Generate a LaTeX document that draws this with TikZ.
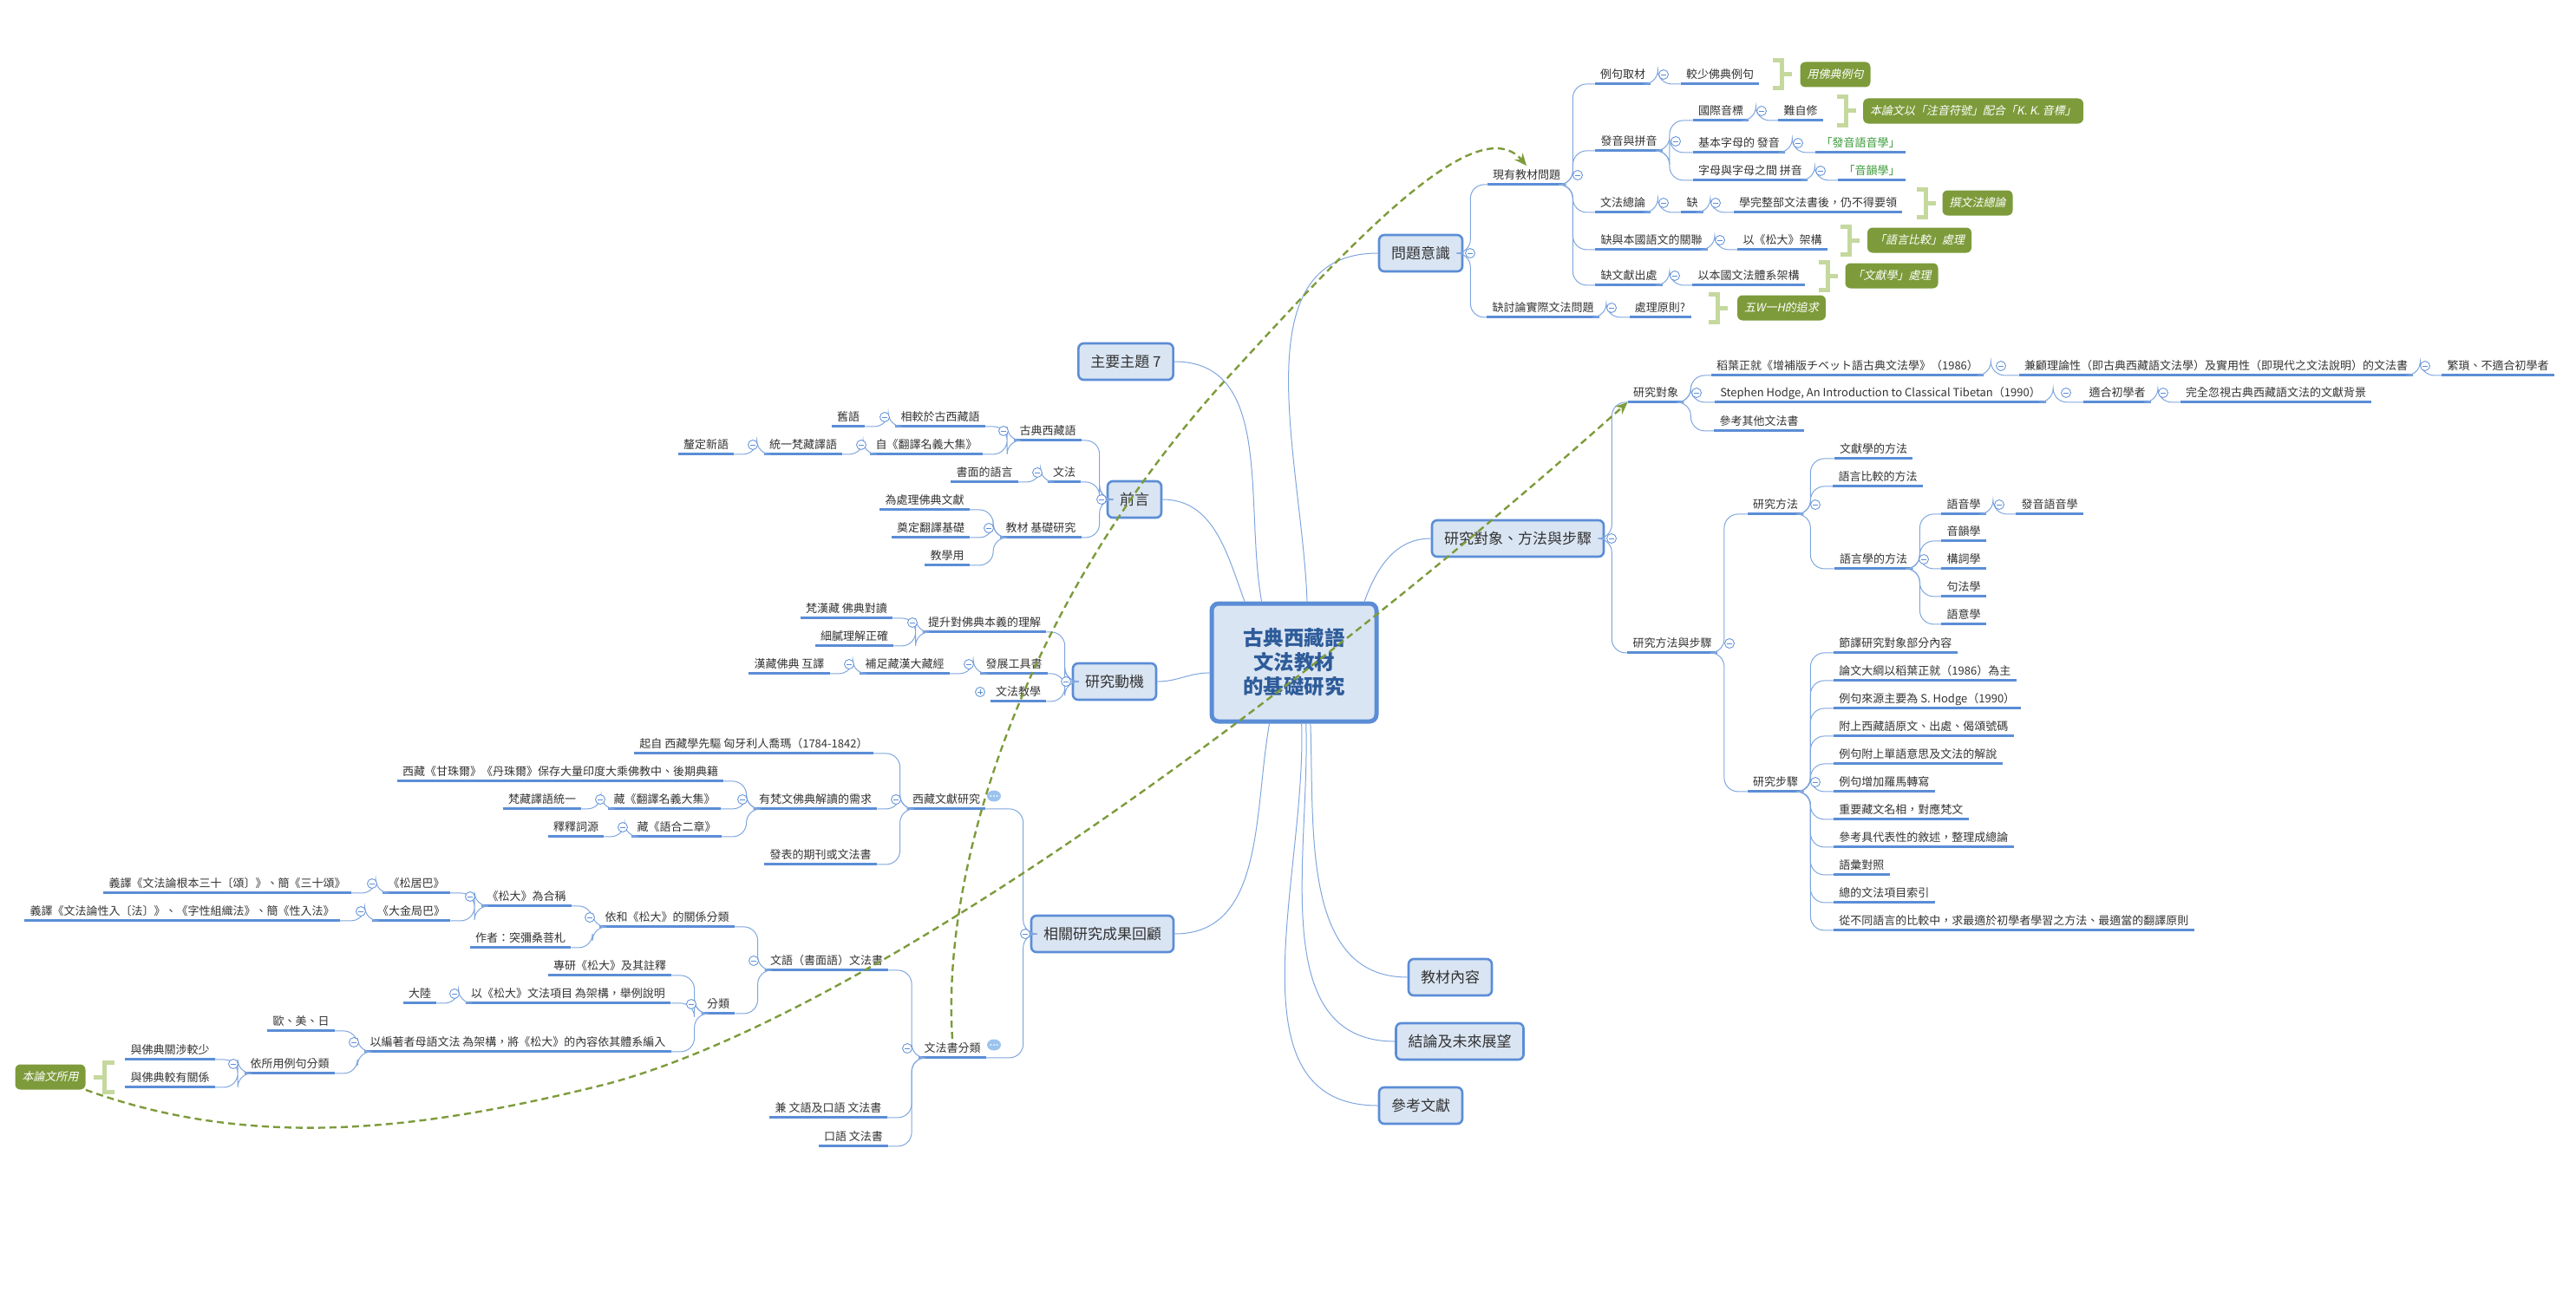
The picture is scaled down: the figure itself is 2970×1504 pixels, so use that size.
\documentclass[tikz,border=0pt]{standalone}
\usepackage{fontspec}
\setmainfont{Noto Sans CJK TC}
\newfontfamily\slcjk{Noto Sans CJK TC}[FakeSlant=0.2]
\usetikzlibrary{arrows.meta,shapes.geometric}
\definecolor{txt}{HTML}{333333}
\definecolor{lnk}{HTML}{7FA6DE}
\definecolor{uln}{HTML}{5B8DD6}
\definecolor{tfill}{HTML}{DAE5F3}
\definecolor{olive}{HTML}{7D9B3B}
\definecolor{brk}{HTML}{C5D89E}
\definecolor{gtxt}{HTML}{3A9A3A}
\definecolor{ctxt}{HTML}{2E5C9A}
\definecolor{bub}{HTML}{9CC3EE}
\newcommand\ssz{\fontsize{6.5}{8}\selectfont}
\newcommand\gbrace[2]{\draw[brace] (#1,#2-16) -- (#1+10,#2-16) -- (#1+10,#2+16) -- (#1,#2+16) (#1+10,#2) -- (#1+22,#2);}

\begin{document}
\begin{tikzpicture}[x=0.5pt,y=-0.5pt,
  leaf/.style={font=\ssz,text=txt,inner xsep=3pt,inner ysep=1.5pt,text height=6pt,text depth=1.5pt,
    append after command={(\tikzlastnode.south west) edge[uline] (\tikzlastnode.south east)}},
  uline/.style={draw=uln,line width=1.5pt},
  link/.style={draw=lnk,line width=0.5pt,rounded corners=8pt},
  topic/.style={draw=uln,line width=1.3pt,fill=tfill,rounded corners=3pt,font=\fontsize{8.5}{10}\selectfont,
    text=txt,inner xsep=7pt,minimum height=21pt},
  gbox/.style={fill=olive,text=white,rounded corners=3pt,font=\slcjk\ssz,minimum height=14.5pt,inner xsep=4pt},
  brace/.style={draw=brk,line width=2.5pt},
  fold/.style={circle,draw=uln,fill=white,line width=0.4pt,inner sep=0pt,minimum size=5.5pt,
    path picture={\draw[uln,line width=0.4pt] ([xshift=-1.5pt]path picture bounding box.center) -- ([xshift=1.5pt]path picture bounding box.center);}},
  bubble/.style={ellipse,fill=bub,inner sep=0pt,minimum width=8pt,minimum height=6.5pt,
    path picture={\foreach \d in {-1.8,0,1.8} \fill[white] ([xshift=\d pt]path picture bounding box.center) circle (0.5pt);}},
  rel/.style={draw=olive,line width=1.2pt,dash pattern=on 4pt off 2.5pt,-{Stealth[length=7pt,width=6pt]}}]
\useasboundingbox (0,0) rectangle (2970,1504);

% central topic
\node[draw=uln,line width=2.5pt,fill=tfill,rounded corners=4pt,minimum width=95pt,minimum height=68pt,
  align=center,font=\fontsize{11.7}{14}\selectfont\bfseries,text=ctxt] (c) at (1492,764) {古典西藏語\\文法教材\\的基礎研究};

\node[topic] (q) at (1638,292) {問題意識};
\node[topic] (m) at (1750,621) {研究對象、方法與步驟};
\node[topic] (t7) at (1298,417) {主要主題 7};
\node[topic] (p) at (1308,576) {前言};
\node[topic] (r) at (1285,786) {研究動機};
\node[topic] (h) at (1271,1077) {相關研究成果回顧};
\node[topic] (bk) at (1672,1127) {教材內容};
\node[topic] (cl) at (1683,1201) {結論及未來展望};
\node[topic] (rf) at (1638,1275) {參考文獻};

\draw[link] (c.118) to[out=100,in=0] (t7.east);
\draw[link] (c.129) to[out=110,in=0] (p.east);
\draw[link] (c.187) to[out=180,in=0] (r.east);
\draw[link] (c.78) to[out=92,in=180] (q.west);
\draw[link] (c.41) to[out=70,in=180] (m.west);
\draw[link] (c.248) to[out=260,in=0] (h.east);
\draw[link] (c.285) to[out=272,in=180] (bk.west);
\draw[link] (c.281) to[out=272,in=180] (cl.west);
\draw[link] (c.277) to[out=272,in=180] (rf.west);

% 問題意識
\node[leaf] (q1) at (1760,202) {現有教材問題};
\node[leaf] (q11) at (1871,86) {例句取材};
\node[leaf] (q11a) at (1983,86) {較少佛典例句};
\node[leaf] (q12) at (1878,163) {發音與拼音};
\node[leaf] (q121) at (1984,128) {國際音標};
\node[leaf] (q121a) at (2076,128) {難自修};
\node[leaf] (q122) at (2005,165) {基本字母的 發音};
\node[leaf,text=gtxt] (q122a) at (2145,165) {「發音語音學」};
\node[leaf] (q123) at (2018,197) {字母與字母之間 拼音};
\node[leaf,text=gtxt] (q123a) at (2158,197) {「音韻學」};
\node[leaf] (q13) at (1871,234) {文法總論};
\node[leaf] (q13a) at (1951,234) {缺};
\node[leaf] (q13b) at (2096,234) {學完整部文法書後，仍不得要領};
\node[leaf] (q14) at (1904,277) {缺與本國語文的關聯};
\node[leaf] (q14a) at (2055,277) {以《松大》架構};
\node[leaf] (q15) at (1878,318) {缺文獻出處};
\node[leaf] (q15a) at (2016,318) {以本國文法體系架構};
\node[leaf] (q2) at (1779,355) {缺討論實際文法問題};
\node[leaf] (q2a) at (1914,355) {處理原則?};

\node[gbox] (g1) at (2116,86) {用佛典例句};
\node[gbox] (g2) at (2275,128) {本論文以「注音符號」配合「K. K. 音標」};
\node[gbox] (g3) at (2280,234) {撰文法總論};
\node[gbox] (g4) at (2213,277) {「語言比較」處理};
\node[gbox] (g5) at (2181,318) {「文獻學」處理};
\node[gbox] (g6) at (2054,355) {五W一H的追求};
\gbrace{2044}{86}
\gbrace{2118}{128}
\gbrace{2210}{234}
\gbrace{2122}{277}
\gbrace{2097}{318}
\gbrace{1970}{355}

% 研究對象、方法與步驟
\node[leaf] (m1) at (1909,453) {研究對象};
\node[leaf] (m11) at (2130,422) {稻葉正就《增補版チベット語古典文法學》（1986）};
\node[leaf] (m11a) at (2555,422) {兼顧理論性（即古典西藏語文法學）及實用性（即現代之文法說明）的文法書};
\node[leaf] (m11b) at (2880,422) {繁瑣、不適合初學者};
\node[leaf] (m12) at (2168,453) {Stephen Hodge, An Introduction to Classical Tibetan（1990）};
\node[leaf] (m12a) at (2441,453) {適合初學者};
\node[leaf] (m12b) at (2624,453) {完全忽視古典西藏語文法的文獻背景};
\node[leaf] (m13) at (2028,486) {參考其他文法書};
\node[leaf] (m2) at (2047,582) {研究方法};
\node[leaf] (m21) at (2160,518) {文獻學的方法};
\node[leaf] (m22) at (2165,550) {語言比較的方法};
\node[leaf] (m23) at (2160,645) {語言學的方法};
\node[leaf] (m231) at (2264,582) {語音學};
\node[leaf] (m231a) at (2363,582) {發音語音學};
\node[leaf] (m232) at (2264,613) {音韻學};
\node[leaf] (m233) at (2264,645) {構詞學};
\node[leaf] (m234) at (2264,677) {句法學};
\node[leaf] (m235) at (2264,709) {語意學};
\node[leaf] (m3) at (1928,742) {研究方法與步驟};
\node[leaf] (m31) at (2047,902) {研究步驟};
\foreach \t [count=\i] in {節譯研究對象部分內容,論文大綱以稻葉正就（1986）為主,例句來源主要為 S. Hodge（1990）,
  附上西藏語原文、出處、偈頌號碼,例句附上單語意思及文法的解說,例句增加羅馬轉寫,重要藏文名相，對應梵文,
  參考具代表性的敘述，整理成總論,語彙對照,總的文法項目索引,從不同語言的比較中，求最適於初學者學習之方法、最適當的翻譯原則}
  \node[leaf,anchor=west] (s\i) at (2114,710+32*\i) {\t};

% 前言
\node[leaf] (p1) at (1208,497) {古典西藏語};
\node[leaf] (p11) at (1084,481) {相較於古西藏語};
\node[leaf] (p11a) at (978,481) {舊語};
\node[leaf] (p12) at (1068,513) {自《翻譯名義大集》};
\node[leaf] (p12a) at (926,513) {統一梵藏譯語};
\node[leaf] (p12b) at (814,513) {釐定新語};
\node[leaf] (p2) at (1227,545) {文法};
\node[leaf] (p2a) at (1135,545) {書面的語言};
\node[leaf] (p3) at (1200,609) {教材 基礎研究};
\node[leaf] (p31) at (1066,577) {為處理佛典文獻};
\node[leaf] (p32) at (1073,609) {奠定翻譯基礎};
\node[leaf] (p33) at (1092,641) {教學用};

% 研究動機
\node[leaf] (r1) at (1135,718) {提升對佛典本義的理解};
\node[leaf] (r11) at (976,702) {梵漢藏 佛典對讀};
\node[leaf] (r12) at (985,734) {細膩理解正確};
\node[leaf] (r2) at (1169,766) {發展工具書};
\node[leaf] (r2a) at (1043,766) {補足藏漢大藏經};
\node[leaf] (r2b) at (910,766) {漢藏佛典 互譯};
\node[leaf] (r3) at (1174,798) {文法教學};

% 相關研究成果回顧
\node[leaf] (h1) at (1091,922) {西藏文獻研究};
\node[leaf] (h11) at (869,858) {起自 西藏學先驅 匈牙利人喬瑪（1784-1842）};
\node[leaf] (h12) at (940,922) {有梵文佛典解讀的需求};
\node[leaf] (h121) at (646,890) {西藏《甘珠爾》《丹珠爾》保存大量印度大乘佛教中、後期典籍};
\node[leaf] (h122) at (766,922) {藏《翻譯名義大集》};
\node[leaf] (h122a) at (625,922) {梵藏譯語統一};
\node[leaf] (h123) at (780,954) {藏《語合二章》};
\node[leaf] (h123a) at (664,954) {釋釋詞源};
\node[leaf] (h13) at (946,986) {發表的期刊或文法書};
\node[leaf] (h2) at (1098,1209) {文法書分類};
\node[leaf] (h21) at (953,1108) {文語（書面語）文法書};
\node[leaf] (h211) at (769,1058) {依和《松大》的關係分類};
\node[leaf] (h2111) at (607,1034) {《松大》為合稱};
\node[leaf] (h21111) at (480,1019) {《松居巴》};
\node[leaf] (h21111a) at (262,1019) {義譯《文法論根本三十〔頌〕》、簡《三十頌》};
\node[leaf] (h21112) at (474,1051) {《大金局巴》};
\node[leaf] (h21112a) at (210,1051) {義譯《文法論性入〔法〕》、《字性組織法》、簡《性入法》};
\node[leaf] (h2112) at (600,1082) {作者：突彌桑菩札};
\node[leaf] (h212) at (828,1158) {分類};
\node[leaf] (h2121) at (703,1114) {專研《松大》及其註釋};
\node[leaf] (h2122) at (655,1146) {以《松大》文法項目 為架構，舉例說明};
\node[leaf] (h2122a) at (484,1146) {大陸};
\node[leaf] (h2123) at (597,1202) {以編著者母語文法 為架構，將《松大》的內容依其體系編入};
\node[leaf] (h21231) at (347,1178) {歐、美、日};
\node[leaf] (h21232) at (334,1227) {依所用例句分類};
\node[leaf] (h212321) at (196,1211) {與佛典關涉較少};
\node[leaf] (h212322) at (196,1243) {與佛典較有關係};
\node[leaf] (h22) at (955,1278) {兼 文語及口語 文法書};
\node[leaf] (h23) at (984,1311) {口語 文法書};
\node[gbox] (g7) at (58,1242) {本論文所用};
\draw[brace] (132,1225) -- (120,1225) -- (120,1259) -- (132,1259) (120,1242) -- (108,1242);
\node[bubble] (cm1) at (1146,918) {};
\node[bubble] (cm2) at (1146,1205) {};

% connectors
\foreach \b in {q1,q2} \draw[link] (q.east) -- ++(8,0) |- (\b.south west);
\foreach \b in {m1,m3} \draw[link] (m.east) -- ++(8,0) |- (\b.south west);
\foreach \a/\b in {q1/q11,q1/q12,q1/q13,q1/q14,q1/q15,q11/q11a,q12/q121,q12/q122,q12/q123,q121/q121a,
  q122/q122a,q123/q123a,q13/q13a,q13a/q13b,q14/q14a,q15/q15a,q2/q2a,
  m1/m11,m1/m12,m1/m13,m11/m11a,m11a/m11b,m12/m12a,m12a/m12b,m3/m2,m3/m31,m2/m21,m2/m22,m2/m23,
  m23/m231,m23/m232,m23/m233,m23/m234,m23/m235,m231/m231a}
  \draw[link] (\a.south east) -- ++(8,0) |- (\b.south west);
\foreach \i in {1,...,11} \draw[link] (m31.south east) -- ++(8,0) |- (s\i.south west);
\foreach \b in {p1,p2,p3} \draw[link] (p.west) -- ++(-8,0) |- (\b.south east);
\foreach \b in {r1,r2,r3} \draw[link] (r.west) -- ++(-8,0) |- (\b.south east);
\foreach \b in {h1,h2} \draw[link] (h.west) -- ++(-8,0) |- (\b.south east);
\foreach \a/\b in {p1/p11,p1/p12,p11/p11a,p12/p12a,p12a/p12b,p2/p2a,p3/p31,p3/p32,p3/p33,
  r1/r11,r1/r12,r2/r2a,r2a/r2b,
  h1/h11,h1/h12,h1/h13,h12/h121,h12/h122,h12/h123,h122/h122a,h123/h123a,
  h2/h21,h2/h22,h2/h23,h21/h211,h21/h212,h211/h2111,h211/h2112,h2111/h21111,h2111/h21112,
  h21111/h21111a,h21112/h21112a,h212/h2121,h212/h2122,h212/h2123,h2122/h2122a,
  h2123/h21231,h2123/h21232,h21232/h212321,h21232/h212322}
  \draw[link] (\a.south west) -- ++(-8,0) |- (\b.south east);

% fold marks
\foreach \x/\y [count=\k] in {1695/292,1819/202,1918/86,1932/163,2031/128,2073/165,2099/197,1918/234,1978/234,
  1983/277,1931/318,1858/355,1858/621,1956/453,2307/422,2796/422,2382/453,2494/453,2093/582,2218/645,
  2305/582,1994/742,2093/902,1270/576,1157/497,1020/481,993/513,868/513,1196/545,1140/609,
  1229/786,1052/718,1117/766,979/766,1182/1077,1033/922,856/922,692/922,718/954,1046/1209,
  869/1108,680/1058,542/1034,429/1019,416/1051,797/1158,524/1146,408/1202,269/1227}
  \node[fold] (f\k) at (\x,\y) {};
\node[circle,draw=uln,fill=white,line width=0.4pt,inner sep=0pt,minimum size=5.5pt,
  path picture={\draw[uln,line width=0.4pt] ([xshift=-1.5pt]path picture bounding box.center) -- ([xshift=1.5pt]path picture bounding box.center)
  ([yshift=-1.5pt]path picture bounding box.center) -- ([yshift=1.5pt]path picture bounding box.center);}] (fr3) at (1130,798) {};

% relations
\draw[rel] (g7.south east) .. controls (300,1330) and (500,1300) .. (700,1250)
  .. controls (1000,1170) and (1500,800) .. (m1.south west);
\draw[rel] (h2.north) .. controls (1085,1000) and (1180,700) .. (1404,448)
  .. controls (1540,300) and (1700,120) .. (q1.north);
\end{tikzpicture}
\end{document}
